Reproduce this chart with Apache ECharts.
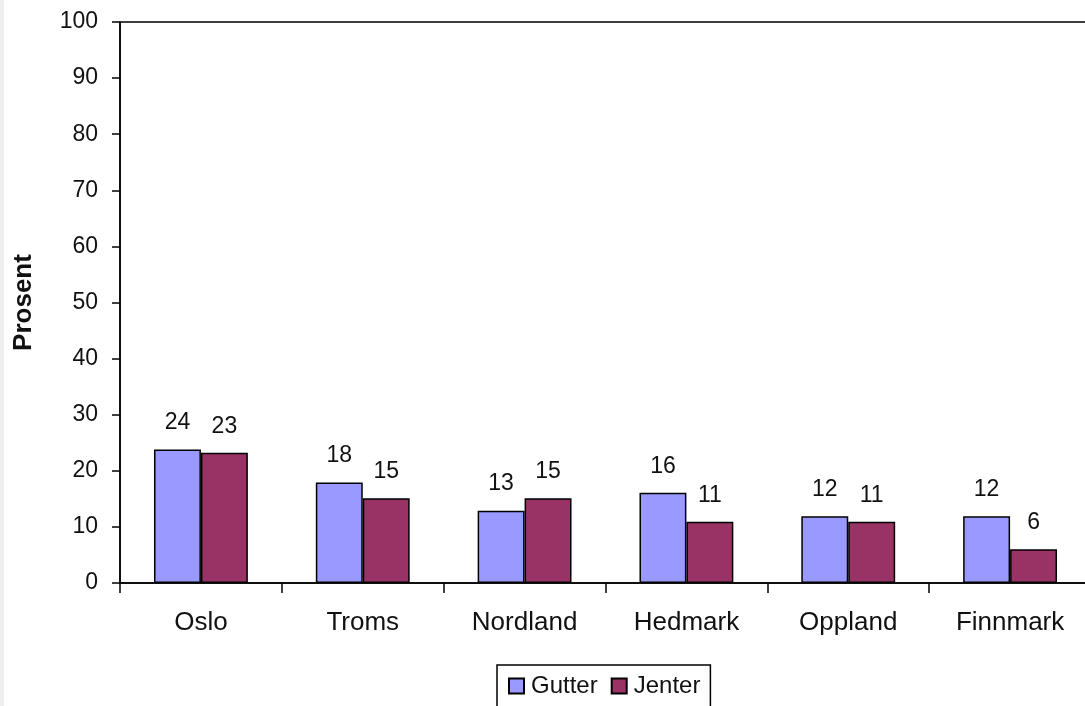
<!DOCTYPE html>
<html>
<head>
<meta charset="utf-8">
<script src="https://cdn.jsdelivr.net/npm/echarts@6/dist/echarts.min.js"></script>
<style>
html,body{margin:0;padding:0;width:1085px;height:706px;overflow:hidden;
background:linear-gradient(to right,#efefef 4px,#ffffff 4px);}
#c{width:1110px;height:706px;}
</style>
</head>
<body>
<div id="c"></div>
<script>
const categories = ['Oslo','Troms','Nordland','Hedmark','Oppland','Finnmark'];
const gutter = [23.8, 17.9, 12.9, 16.1, 11.9, 11.9];
const jenter = [23.2, 15.1, 15.1, 10.9, 10.9, 6.0];
const seriesNames = ['Gutter','Jenter'];
const yTicks = {min:0, max:100, interval:10};

const FONT = '"Liberation Sans", Arial, sans-serif';
const TXT = '#111';
const chart = echarts.init(document.getElementById('c'), null, {renderer:'canvas'});
const labelCfg = {
  show:true, position:'top', distance:15, color:TXT, fontFamily:FONT, fontSize:23,
  formatter: p => Math.round(p.value)
};
chart.setOption({
  backgroundColor:'transparent',
  animation:false,
  grid:{left:120, top:22, bottom:123, width:971, show:true, backgroundColor:'#fff',
        borderColor:'#000', borderWidth:1.5, containLabel:false},
  legend:{
    data:seriesNames, left:497, top:665, orient:'horizontal',
    borderColor:'#000', borderWidth:1.5, backgroundColor:'#fff',
    padding:[9,10,9,11], itemWidth:15, itemHeight:15, itemGap:13,
    icon:'rect',
    textStyle:{fontFamily:FONT, fontSize:24, color:TXT, padding:[0,0,0,2]}
  },
  xAxis:{
    type:'category', data:categories,
    axisLine:{lineStyle:{color:'#000', width:1.5}},
    axisTick:{show:true, length:10, lineStyle:{color:'#000', width:1.5}},
    axisLabel:{color:TXT, fontFamily:FONT, fontSize:26, margin:27},
    splitLine:{show:false}
  },
  yAxis:{
    type:'value', min:yTicks.min, max:yTicks.max, interval:yTicks.interval,
    name:'Prosent', nameLocation:'middle', nameRotate:90, nameGap:83,
    nameTextStyle:{fontFamily:FONT, fontSize:26, fontWeight:'bold', color:TXT},
    axisLine:{show:true, lineStyle:{color:'#000', width:1.5}},
    axisTick:{show:true, length:8, lineStyle:{color:'#000', width:1.5}},
    axisLabel:{color:TXT, fontFamily:FONT, fontSize:23, margin:22},
    splitLine:{show:false}
  },
  series:[
    {name:seriesNames[0], type:'bar', data:gutter, barGap:'0%', barCategoryGap:'42%',
     itemStyle:{color:'#9999FF', borderColor:'#000', borderWidth:1.5}, label:labelCfg},
    {name:seriesNames[1], type:'bar', data:jenter, barGap:'0%', barCategoryGap:'42%',
     itemStyle:{color:'#993366', borderColor:'#000', borderWidth:1.5}, label:labelCfg}
  ]
});
</script>
</body>
</html>
